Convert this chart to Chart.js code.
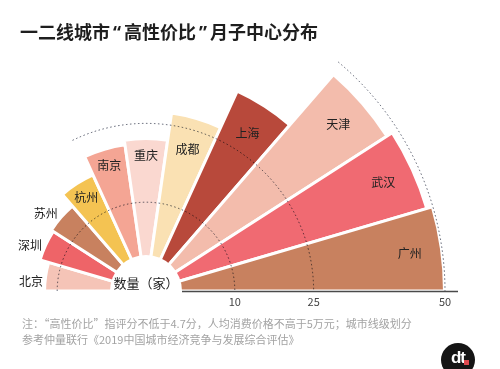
<!DOCTYPE html>
<html>
<head>
<meta charset="utf-8">
<script src="https://cdn.jsdelivr.net/npm/chart.js@4.4.1/dist/chart.umd.min.js"></script>
<style>
  html, body { margin: 0; padding: 0; background: #fff; }
  body {
    width: 500px; height: 369px; overflow: hidden; position: relative;
    font-family: "Noto Sans CJK SC", "Noto Sans", sans-serif;
  }
  #chart { position: absolute; left: -204px; top: -59px; }
  #title {
    position: absolute; left: 20px; top: 19px; margin: 0;
    font-size: 18px; line-height: 24px; font-weight: 700; color: #1e1e1e;
    white-space: nowrap;
  }
  .q { font-family: "Noto Sans", sans-serif; margin: 0 3px; }
  #note {
    position: absolute; left: 22px; top: 315px;
    font-size: 11px; line-height: 16px; color: #a3a3a3; white-space: nowrap;
  }
  #logo {
    position: absolute; left: 441px; top: 343px; width: 34px; height: 34px;
    border-radius: 50%; background: #151515; color: #fff;
    font: 700 17px/30px "Liberation Sans", sans-serif; text-align: center;
    letter-spacing: -1px;
  }
  #logo i {
    position: absolute; left: 23px; top: 17px; width: 5px; height: 5px;
    background: #e0494f;
  }
</style>
</head>
<body>
<canvas id="chart" width="700" height="700"></canvas>
<h1 id="title">一二线城市<span class="q">“</span>高性价比<span class="q">”</span>月子中心分布</h1>
<div id="note">注：“高性价比”指评分不低于4.7分，人均消费价格不高于5万元；城市线级划分<br>参考仲量联行《2019中国城市经济竞争与发展综合评估》</div>
<div id="logo">dt<i></i></div>
<script>
// data
const cities = ["北京", "深圳", "苏州", "杭州", "南京", "重庆", "成都", "上海", "天津", "武汉", "广州"];
const counts = [12.4, 14.1, 14.5, 17.4, 21.2, 22.1, 27.3, 34.9, 47.6, 48.8, 49.9];
const radiusTicks = [10, 25, 50];
const axisTitle = "数量（家）";

const colors = [
  "#f5c4b7", "#ee6468", "#c8815f", "#f4c352", "#f4a594", "#fad8d0",
  "#fae1b3", "#b8493b", "#f3bcac", "#f06a72", "#c8815f",
];

const FONT = '"Noto Sans CJK SC", "Noto Sans", sans-serif';
const deg = Math.PI / 180;

// dotted guide arcs, baseline, hub circle, labels
const decor = {
  id: "decor",
  afterDatasetsDraw(chart) {
    const ctx = chart.ctx;
    const sc = chart.scales.r;
    const cx = sc.xCenter, cy = sc.yCenter;
    const hub = 36;

    // guide arcs (value, from angle in degrees measured from the right)
    const arcs = [
      [radiusTicks[0], 180],
      [radiusTicks[1], 116],
      [radiusTicks[2], 50],
    ];
    ctx.save();
    ctx.globalCompositeOperation = "multiply";
    ctx.strokeStyle = "#5d6272";
    ctx.lineWidth = 1;
    ctx.setLineDash([1.5, 2.5]);
    for (const [v, a] of arcs) {
      ctx.beginPath();
      ctx.arc(cx, cy, sc.getDistanceFromCenterForValue(v), -a * deg, 0);
      ctx.stroke();
    }
    ctx.restore();

    // hub
    ctx.save();
    ctx.fillStyle = "#fff";
    ctx.beginPath();
    ctx.arc(cx, cy, hub, Math.PI, 2 * Math.PI);
    ctx.fill();
    ctx.fillRect(cx - hub, cy, hub * 2, 4);

    // baseline
    const rMax = sc.getDistanceFromCenterForValue(radiusTicks[2]);
    ctx.strokeStyle = "#4a4a4a";
    ctx.lineWidth = 1.5;
    ctx.beginPath();
    ctx.moveTo(cx + hub, cy + 0.5);
    ctx.lineTo(cx + rMax + 13, cy + 0.5);
    ctx.stroke();

    // tick labels along baseline
    ctx.fillStyle = "#444";
    ctx.font = "11px " + FONT;
    ctx.textAlign = "center";
    ctx.textBaseline = "middle";
    for (const v of radiusTicks) {
      ctx.fillText(String(v), cx + sc.getDistanceFromCenterForValue(v), cy + 11);
    }

    // axis title in hub
    ctx.fillStyle = "#222";
    ctx.font = "13px " + FONT;
    ctx.fillText(axisTitle, cx, cy - 8);

    // city labels: small sectors outside, others inside near the rim
    ctx.font = "12px " + FONT;
    const meta = chart.getDatasetMeta(0);
    meta.data.forEach((arc, i) => {
      const p = arc.getProps(["startAngle", "endAngle", "outerRadius"], true);
      const v = counts[i];
      const outside = v < 15;
      // outside labels lean toward the lower edge of their sector
      const mid = outside ? p.startAngle * 0.7 + p.endAngle * 0.3 : (p.startAngle + p.endAngle) / 2;
      const r = outside ? p.outerRadius + 14 : p.outerRadius - (v < 25 ? 17 : 32);
      ctx.fillText(cities[i], cx + Math.cos(mid) * r, cy + Math.sin(mid) * r);
    });
    ctx.restore();
  },
};

new Chart(document.getElementById("chart"), {
  type: "polarArea",
  data: {
    labels: cities,
    datasets: [
      {
        data: counts,
        backgroundColor: colors,
        borderColor: "#fff",
        borderWidth: 3,
        angle: 180 / cities.length,
      },
    ],
  },
  options: {
    responsive: false,
    animation: false,
    layout: { padding: 51 },
    plugins: { legend: { display: false }, tooltip: { enabled: false } },
    scales: {
      r: {
        min: -6.9,
        max: 50,
        startAngle: -90,
        ticks: { display: false },
        grid: { display: false },
        angleLines: { display: false },
        pointLabels: { display: false },
      },
    },
  },
  plugins: [decor],
});
</script>
</body>
</html>
